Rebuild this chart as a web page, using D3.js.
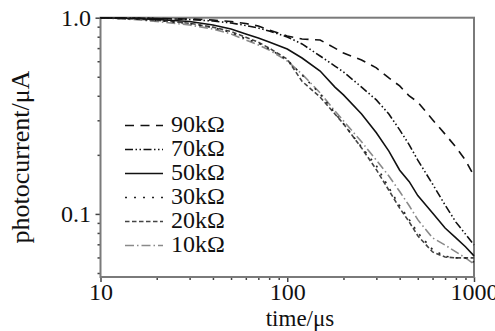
<!DOCTYPE html>
<html>
<head>
<meta charset="utf-8">
<script src="https://cdn.jsdelivr.net/npm/d3@7"></script>
<style>
  html, body { margin: 0; padding: 0; background: #fff; }
  svg { display: block; font-family: "Liberation Serif", "Times New Roman", serif; }
</style>
</head>
<body>
<div id="chart"></div>
<script>
// time axis (µs), shared by all curves
const times = [10, 15, 20, 30, 40, 50, 60, 70, 80, 100, 120, 150, 180, 200, 250, 300, 350, 400, 450, 500, 600, 700, 800, 900, 1000];

// photocurrent (µA) per load resistance
const r90 = [1.0, 0.996, 0.99, 0.985, 0.973, 0.956, 0.934, 0.907, 0.866, 0.807, 0.779, 0.770, 0.70, 0.66, 0.609, 0.555, 0.493, 0.449, 0.399, 0.372, 0.302, 0.255, 0.219, 0.188, 0.156];
const r70 = [1.0, 0.996, 0.991, 0.979, 0.962, 0.940, 0.913, 0.886, 0.855, 0.798, 0.735, 0.638, 0.567, 0.529, 0.443, 0.381, 0.323, 0.268, 0.225, 0.188, 0.142, 0.111, 0.0908, 0.0789, 0.0694];
const r50 = [1.0, 0.991, 0.979, 0.956, 0.918, 0.876, 0.826, 0.788, 0.752, 0.693, 0.623, 0.535, 0.443, 0.404, 0.323, 0.259, 0.209, 0.167, 0.146, 0.124, 0.101, 0.0848, 0.0755, 0.068, 0.0611];
const r30 = [1.0, 0.985, 0.968, 0.934, 0.891, 0.840, 0.780, 0.743, 0.693, 0.609, 0.510, 0.409, 0.327, 0.288, 0.219, 0.176, 0.136, 0.110, 0.0935, 0.0802, 0.0658, 0.0609, 0.0597, 0.0597, 0.0568];
const r20 = [1.0, 0.987, 0.970, 0.937, 0.895, 0.850, 0.795, 0.750, 0.700, 0.615, 0.474, 0.394, 0.323, 0.288, 0.217, 0.168, 0.132, 0.107, 0.091, 0.0774, 0.064, 0.0603, 0.0597, 0.0597, 0.0597];
const r10 = [1.0, 0.979, 0.956, 0.918, 0.876, 0.826, 0.770, 0.726, 0.685, 0.602, 0.516, 0.414, 0.335, 0.298, 0.233, 0.188, 0.156, 0.130, 0.110, 0.0935, 0.0755, 0.0694, 0.064, 0.0597, 0.0556];

const seriesLabels = ['90kΩ', '70kΩ', '50kΩ', '30kΩ', '20kΩ', '10kΩ'];
const seriesValues = [r90, r70, r50, r30, r20, r10];

const xMajor = [10, 100, 1000];
const yMajor = [0.1, 1.0];
const xDomain = [10, 1000];
const yDomain = [0.0477, 1.0];

// line styles, same order as the labels
const styles = [
  { dash: '9,6.5', color: '#111' },
  { dash: '8,2.5,1.5,2.5,1.5,2.5', color: '#111' },
  { dash: null, color: '#111' },
  { dash: '2,7', color: '#222' },
  { dash: '4.5,2.5', color: '#444' },
  { dash: '9,3,1.5,3', color: '#8a8a8a' }
];

const W = 495, H = 331;
const box = { left: 100.5, right: 474, top: 17.7, bottom: 277 };
const fontSize = '24px';

const svg = d3.select('#chart').append('svg')
  .attr('width', W).attr('height', H);

const x = d3.scaleLog().domain(xDomain).range([box.left, box.right]);
const y = d3.scaleLog().domain(yDomain).range([box.bottom, box.top]);

const xMinor = x.ticks().filter(t => !xMajor.includes(t));
const yMinor = y.ticks().filter(t => !yMajor.some(m => Math.abs(m - t) < 1e-9));

// x axis
const gx = svg.append('g').attr('transform', `translate(0,${box.bottom})`);
gx.append('g')
  .call(d3.axisBottom(x).tickValues(xMinor).tickSize(3).tickFormat(''))
  .call(g => g.select('.domain').remove());
gx.append('g')
  .call(d3.axisBottom(x).tickValues(xMajor).tickSize(5).tickPadding(0.5).tickFormat(d3.format('d')))
  .call(g => g.select('.domain').remove());

// y axis
const gy = svg.append('g').attr('transform', `translate(${box.left},0)`);
gy.append('g')
  .call(d3.axisLeft(y).tickValues(yMinor).tickSize(3).tickFormat(''))
  .call(g => g.select('.domain').remove());
gy.append('g')
  .call(d3.axisLeft(y).tickValues(yMajor).tickSize(5).tickPadding(4.5).tickFormat(d3.format('.1f')))
  .call(g => g.select('.domain').remove());

svg.selectAll('.tick line').attr('stroke', '#444').attr('stroke-width', 1.5);
svg.selectAll('.tick text')
  .attr('fill', '#111')
  .style('font-family', '"Liberation Serif", "Times New Roman", serif')
  .style('font-size', fontSize);

// frame
svg.append('rect')
  .attr('x', box.left).attr('y', box.top)
  .attr('width', box.right - box.left).attr('height', box.bottom - box.top)
  .attr('fill', 'none').attr('stroke', '#7a7a7a').attr('stroke-width', 2);

// curves
const line = d3.line()
  .x(d => x(d[0]))
  .y(d => y(d[1]));

const plot = svg.append('g');
seriesValues.map((vals, i) => ({ vals, i })).reverse().forEach(({ vals, i }) => {
  plot.append('path')
    .datum(times.map((t, k) => [t, vals[k]]))
    .attr('d', line)
    .attr('fill', 'none')
    .attr('stroke', styles[i].color)
    .attr('stroke-width', 1.6)
    .attr('stroke-dasharray', styles[i].dash);
});

// legend
const legend = svg.append('g');
seriesLabels.forEach((lab, i) => {
  const base = 131.5 + i * 24;
  legend.append('line')
    .attr('x1', 125).attr('x2', 163)
    .attr('y1', base - 6).attr('y2', base - 6)
    .attr('stroke', styles[i].color)
    .attr('stroke-width', 1.6)
    .attr('stroke-dasharray', styles[i].dash);
  legend.append('text')
    .attr('x', 171).attr('y', base)
    .attr('fill', '#111')
    .style('font-size', fontSize)
    .text(lab);
});

// axis titles
svg.append('text')
  .attr('x', 300).attr('y', 325.5)
  .attr('text-anchor', 'middle')
  .attr('fill', '#111')
  .style('font-size', '23px')
  .text('time/μs');

svg.append('text')
  .attr('transform', 'translate(28.5,157) rotate(-90)')
  .attr('text-anchor', 'middle')
  .attr('fill', '#111')
  .style('font-size', '26px')
  .text('photocurrent/μA');
</script>
</body>
</html>
